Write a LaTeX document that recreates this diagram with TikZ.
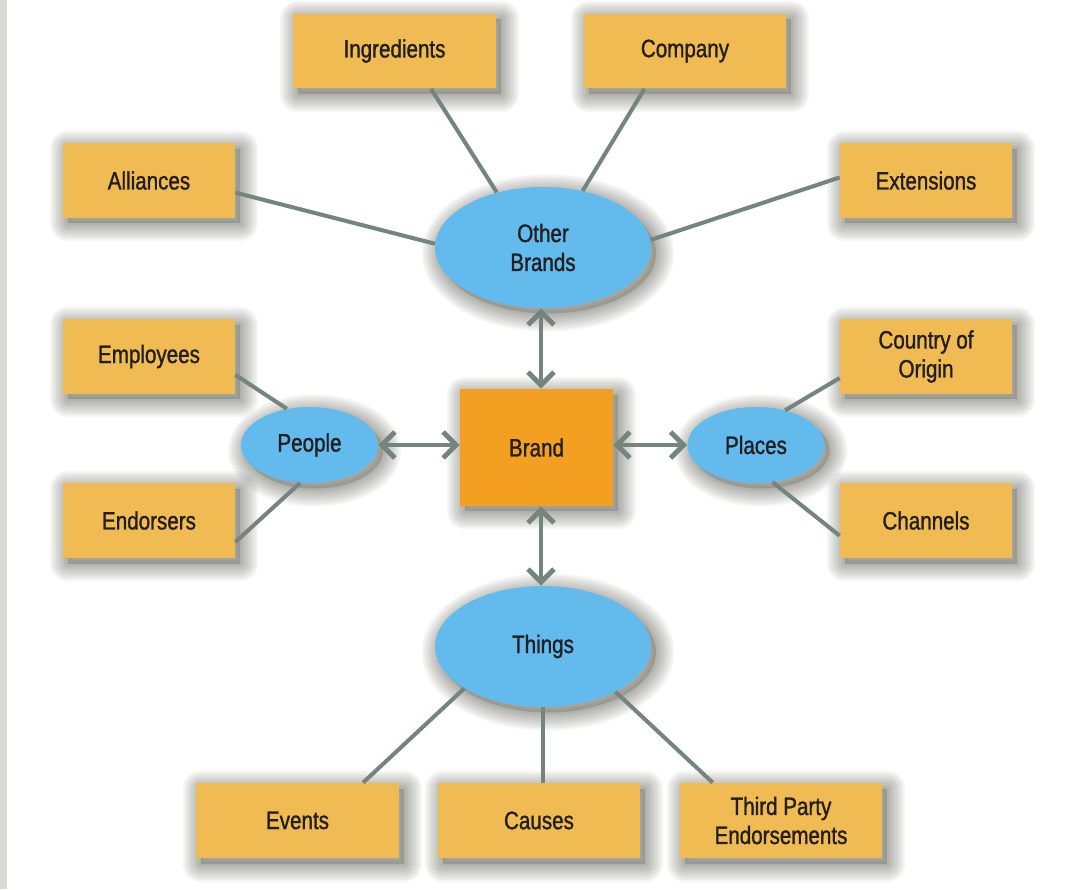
\documentclass[tikz,border=0pt]{standalone}
\usepackage{fontspec}
\setmainfont[FakeStretch=0.82,FakeBold=1.2]{Liberation Sans}
\usetikzlibrary{arrows.meta,shapes.geometric}
\definecolor{boxgold}{HTML}{EFBB52}
\definecolor{brandorange}{HTML}{F29F22}
\definecolor{ovalblue}{HTML}{63BAEC}
\definecolor{linkgrey}{HTML}{748580}
\definecolor{inkblack}{HTML}{231F20}
\definecolor{stripgrey}{HTML}{D9D9D5}
\definecolor{shadowtone}{HTML}{3E3E30}
\begin{document}
\begin{tikzpicture}[x=0.02cm,y=-0.02cm,
  every node/.style={text=inkblack, font=\fontsize{14.3}{16.5}\selectfont, align=center},
  shadestep/.style={preaction={draw=shadowtone, fill=shadowtone, line join=round, line width=#1, draw opacity=0.05, fill opacity=0.025, transform canvas={xshift=1mm,yshift=-1.1mm}}},
  softshadow/.style={shadestep=7.2mm, shadestep=6.4mm, shadestep=5.6mm, shadestep=4.8mm, shadestep=4mm, shadestep=3.2mm, shadestep=2.4mm, shadestep=1.6mm, shadestep=0.8mm},
  tbox/.style={rectangle, fill=boxgold, inner sep=0pt, minimum width=3.44cm, minimum height=1.5cm, softshadow},
  wbox/.style={tbox, minimum width=4.06cm},
  oval/.style={ellipse, fill=ovalblue, inner sep=0pt, minimum width=4.32cm, minimum height=2.42cm, softshadow},
  soval/.style={oval, minimum width=2.74cm, minimum height=1.52cm},
  link/.style={draw=linkgrey, line width=2.3pt},
  biarr/.style={draw=linkgrey, line width=2.8pt, {Straight Barb[length=2.6mm,width=5.2mm]}-{Straight Barb[length=2.6mm,width=5.2mm]}}]
\useasboundingbox (0,0) rectangle (1071,889);
\fill[white] (0,0) rectangle (1071,889);
\fill[stripgrey] (0,0) rectangle (7,889);
% centre
\node[rectangle, fill=brandorange, inner sep=0pt, minimum width=3.06cm, minimum height=2.34cm, softshadow] (brand) at (536.5,447.5){Brand};
\node[oval] (oth) at (543,247.5){Other\\Brands};
\node[soval] (ppl) at (309.5,445){People};
\node[soval] (plc) at (756,445){Places};
\node[oval] (thg) at (543,646.5){Things};
% outer boxes
\node[tbox] (all) at (149,180.5){Alliances};
\node[wbox] (ing) at (394.5,51){Ingredients};
\node[wbox] (com) at (685,51){Company};
\node[tbox] (ext) at (926,180.5){Extensions};
\node[tbox] (emp) at (149,356.5){Employees};
\node[tbox] (ens) at (149,520.5){Endorsers};
\node[tbox] (coo) at (926,356.5){Country of\\Origin};
\node[tbox] (chn) at (926,520.5){Channels};
\node[wbox] (evt) at (297.5,820.5){Events};
\node[wbox] (cau) at (539,820.5){Causes};
\node[wbox] (tpe) at (781,820.5){Third Party\\Endorsements};
% links
\draw[link](all.-8) -- (oth.178);
\draw[link](ing.-46) -- (oth.130);
\draw[link](com.-137) -- (oth.55);
\draw[link](ext.178) -- (oth.4);
\draw[link](emp.-12) -- (ppl.122);
\draw[link](ens.-14) -- (ppl.-104);
\draw[link](coo.194) -- (plc.50);
\draw[link](chn.190) -- (plc.-66);
\draw[link](evt.30) -- (thg.-152);
\draw[link](thg.south) -- (thg.south |- cau.north);
\draw[link](tpe.151) -- (thg.-32);
% arrows
\draw[biarr](oth.south -| 541,0) -- (brand.north -| 541,0);
\draw[biarr](ppl.east) -- (ppl.east -| brand.west);
\draw[biarr](brand.east |- plc.west) -- (plc.west);
\draw[biarr](brand.south -| 541,0) -- (thg.north -| 541,0);
\end{tikzpicture}
\end{document}
